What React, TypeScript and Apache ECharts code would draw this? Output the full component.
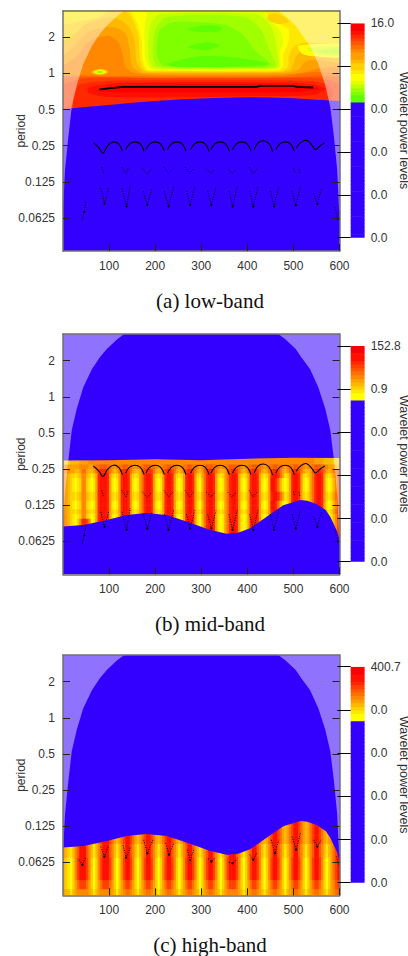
import React, { useEffect, useRef } from "react";
import * as echarts from "echarts";

const xTicks = [100, 200, 300, 400, 500, 600];
const periodTicks = [2, 1, 0.5, 0.25, 0.125, 0.0625];
const periodTop = 3.333;
const periodBottom = 0.03319;

// Colour levels: "." is the blue floor, a..q run green -> yellow -> orange -> red.
const levelKeys = ".abcdefghijklmnopq";
const levelColors = ["#3300FF", "#60FF00", "#80FF00", "#A0FF00", "#C0FF00", "#E0FF00", "#FFFF00", "#FFE800", "#FFD000", "#FFB800", "#FFA000", "#FF8800", "#FF7000", "#FF5800", "#FF4000", "#FF2800", "#FF1000", "#FA0000"];

const cellPeriods = [3.364, 3.084, 2.828, 2.594, 2.378, 2.181, 2, 1.834, 1.682, 1.542, 1.414, 1.297, 1.189, 1.091, 1, 0.917, 0.841, 0.771, 0.707, 0.648, 0.595, 0.545, 0.5, 0.459, 0.42, 0.386, 0.354, 0.324, 0.297, 0.273, 0.25, 0.229, 0.21, 0.193, 0.177, 0.162, 0.149, 0.136, 0.125, 0.115, 0.105, 0.0964, 0.0884, 0.0811, 0.0743, 0.0682, 0.0625, 0.0573, 0.0526, 0.0482, 0.0442, 0.0405, 0.0372, 0.0341, 0.0313];

// Low band: filled contour levels, painted in this order, one level key for each outline.
const lowContourLevels = "mnopqlkjihggfedcbaaafedhhfca";
const lowContourLines = [
  [[-20, 0.45], [620, 0.45], [620, 4], [-20, 4]],
  [[20, 0.86], [60, 0.92], [300, 0.92], [540, 0.92], [590, 0.85], [620, 0.7], [620, 0.45], [-20, 0.45], [-20, 0.72]],
  [[35, 0.8], [70, 0.85], [130, 0.875], [470, 0.875], [540, 0.86], [575, 0.8], [585, 0.72], [575, 0.55], [300, 0.5], [30, 0.45], [22, 0.62]],
  [[55, 0.76], [100, 0.82], [150, 0.84], [480, 0.84], [540, 0.815], [570, 0.745], [540, 0.66], [400, 0.645], [200, 0.63], [90, 0.64], [55, 0.69]],
  [[80, 0.74], [130, 0.8], [480, 0.81], [545, 0.775], [555, 0.74], [500, 0.7], [300, 0.695], [120, 0.695], [80, 0.71]],
  [[-20, 0.987], [50, 0.94], [100, 0.932], [200, 0.922], [400, 0.922], [500, 0.932], [550, 0.958], [620, 1.006], [620, 4], [-20, 4]],
  [[-20, 1.025], [50, 0.968], [100, 0.958], [200, 0.95], [400, 0.95], [480, 0.958], [540, 1.025], [620, 1.065], [620, 4], [-20, 4]],
  [[-20, 1.107], [30, 1.39], [50, 1.76], [70, 1.97], [100, 2.05], [120, 1.82], [130, 1.42], [135, 1.15], [150, 1.025], [200, 0.977], [470, 0.98], [520, 1.02], [550, 1.09], [580, 1.13], [620, 1.13], [620, 4], [-20, 4]],
  [[-20, 1.29], [25, 1.69], [50, 2.17], [80, 2.39], [110, 2.43], [135, 2.17], [145, 1.56], [150, 1.15], [170, 1.015], [200, 1.006], [470, 1.01], [510, 1.07], [525, 1.25], [545, 1.3], [580, 1.25], [620, 1.22], [620, 4], [-20, 4]],
  [[-20, 1.72], [25, 2.13], [50, 2.58], [80, 2.84], [115, 2.89], [140, 2.53], [155, 1.9], [160, 1.24], [175, 1.045], [200, 1.025], [470, 1.03], [495, 1.09], [505, 1.37], [520, 1.56], [540, 1.56], [570, 1.51], [620, 1.34], [620, 4], [-20, 4]],
  [[-20, 4], [-20, 2.58], [50, 2.78], [90, 3.12], [110, 4]],
  [[125, 4], [150, 2.89], [163, 2.09], [168, 1.29], [178, 1.065], [200, 1.045], [470, 1.045], [488, 1.13], [490, 1.39], [500, 1.66], [530, 1.82], [620, 1.76], [620, 4]],
  [[140, 4], [160, 2.68], [170, 1.9], [173, 1.29], [183, 1.076], [200, 1.065], [465, 1.07], [477, 1.15], [478, 1.45], [488, 1.76], [490, 2.3], [470, 2.58], [445, 3], [430, 4]],
  [[195, 4], [178, 2.53], [177, 1.72], [180, 1.29], [190, 1.097], [210, 1.076], [462, 1.086], [472, 1.16], [470, 1.51], [478, 1.82], [470, 2.3], [440, 3.06], [430, 4]],
  [[210, 3.12], [190, 2.58], [185, 1.72], [187, 1.29], [197, 1.12], [215, 1.097], [460, 1.1], [468, 1.17], [466, 1.42], [462, 1.82], [450, 2.53], [420, 3.12]],
  [[225, 2.95], [200, 2.3], [195, 1.56], [198, 1.22], [210, 1.13], [450, 1.12], [462, 1.17], [450, 1.5], [430, 2.3], [395, 2.95]],
  [[240, 2.68], [210, 2.3], [203, 1.56], [208, 1.29], [220, 1.15], [330, 1.14], [440, 1.14], [445, 1.25], [420, 1.5], [390, 2.1], [350, 2.55]],
  [[270, 2.34], [310, 2.53], [345, 2.43], [340, 2.25], [300, 2.21]],
  [[270, 1.66], [310, 1.82], [340, 1.72], [310, 1.56]],
  [[225, 1.2], [300, 1.4], [380, 1.35], [450, 1.2], [380, 1.14], [240, 1.14]],
  [[510, 1.69], [560, 1.76], [620, 1.72], [620, 1.37], [560, 1.37], [520, 1.45]],
  [[530, 1.63], [620, 1.66], [620, 1.42], [550, 1.45]],
  [[550, 1.56], [620, 1.6], [620, 1.48], [560, 1.49]],
  [[445, 3.06], [460, 3.18], [480, 2.95], [490, 2.68], [470, 2.58], [445, 2.78]],
  [[62, 1.03], [70, 1.07], [80, 1.09], [92, 1.07], [98, 1.03], [90, 0.987], [80, 0.977], [70, 0.987]],
  [[67, 1.03], [74, 1.06], [86, 1.06], [93, 1.03], [86, 1.0], [74, 1.0]],
  [[72, 1.03], [80, 1.05], [88, 1.03], [80, 1.01]],
  [[75, 1.03], [80, 1.04], [85, 1.03], [80, 1.02]],
];

const midFlat = "hhhiiiijjjjkkkkkkkkk kkkkkkkkkkkkkkkkkkkk kkkkkkkkkkkkkkkkkkkk kkkkkkkkkkkkkkkkkkkk kkkkkkkkkkkkkkkkkkkk kkkkkkkkkjjjjiiiihhh";
const midFaint = "kkjjj j jkkkkj j kllmmmllk j kllmmllk j kklmmmllk j kllmmllk j kllmmllk j klmmmllk j kklmmmllk j kllmmllk j kllmmllk j kllmmllk j kklmmmllk j jjii";
const midSoft = "lkkjj i ijllji i jlnooonlj i jlnoonlj i ijmnoonlj i jlnoonlj i jlnoonlj i jmnoonlj i ijmnoonlj i jlnoonlj i jlnoonlj i jlnoonlj i ijmnoonlj i jkmn";
const midMedium = "kjihh g hikkih g hjopppojh g hjoppojh g hjloppojh g hjoppojh g hjoppojh g jloppojh g hjloppojh g hjoppojh g hjoppolj g hjoppojh g hjloppojh g hjln";
const midBright = "kjihg f ghkkhg f gjopppojg f gjoppojg f gjloppojg f gjoppojg f gjoppojg f iloppojg f gjloppojg f gjoppojg f gjppolig f gjoppojg f gjloppojg f gikn";
const midLow = "kjihg f hkoonk f gjopppojg f gjoppojg f gjloppojg f gjoppojg f gjoppojg f iloppojg f gjloppojg f gjoppojg f gjppolig f gjoppojg f gjloppojg f gikn";
const midRows = [midFlat, midFlat, midFaint, midSoft, midMedium, midBright, midBright, midBright, midMedium, midMedium, midBright, midBright, midMedium, midBright, midLow, midLow, midLow, midLow, midLow, midLow];

const highUpper = "kkj i jlnpppnlj i jlnpppnlj i jlnppnlj i jlnppnlj i jlnppnlj i jlnppnlj i jlnppnlj i jlnpppnlj i jlnppnlj i jlnppnlj i jlnppnlj i jlnppnlj i jkmnp";
const highMiddle = "jih g ikmpppmki g ikmpppmki g ikmppmki g ikmppmki g ikmppmki g ikmppmki g ikmppmki g ikmpppmki g ikmppmki g ikmppmki g ikmppmki g ikmppmki g ijlnp";
const highBright = "ihg f hknpppnkh f hknpppnkh f hknppnkh f hknppnkh f hknppnkh f hknppnkh f hknppnkh f hknpppnkh f hknppnkh f hknppnkh f hknppnkh f hknppnkh f hjlnp";
const highFading = "ihg f hjlnnnljh f hjlnnnljh f hjlnnljh f hjlnnljh f hjlnnljh f hjlnnljh f hjlnnljh f hjlnnnljh f hjlnnljh f hjlnnljh f hjlnnljh f hjlnnljh f hjkmn";
const highFoot = "jii g ijkkkkkji g ijkkkkkji g ijkllkji g ijkllkji g ijkllkji g ijkllkji g ijkllkji g ijkkkkkji g ijkllkji g ijkllkji g ijkllkji g ijkllkji g ijklm";
const highRows = [highUpper, highUpper, highUpper, highUpper, highUpper, highUpper, highMiddle, highMiddle, highMiddle, highBright, highBright, highBright, highBright, highBright, highFading, highFading, highFoot, highFoot];

// Boundaries between the blue floor and the coloured band: [time, period]
const lowEdge = [[-20, 0.5], [20, 0.514], [60, 0.53], [100, 0.547], [150, 0.57], [200, 0.591], [250, 0.606], [300, 0.619], [350, 0.628], [400, 0.634], [450, 0.63], [500, 0.622], [550, 0.604], [620, 0.584]];
const midTopEdge = [[-20, 0.294], [100, 0.296], [200, 0.302], [300, 0.296], [400, 0.305], [500, 0.311], [620, 0.308]];
const bandEdge = [[-20, 0.083], [0, 0.083], [45, 0.0855], [95, 0.0942], [138, 0.1037], [181, 0.1077], [225, 0.1037], [268, 0.0912], [318, 0.0779], [355, 0.0721], [380, 0.0735], [406, 0.0803], [442, 0.1002], [478, 0.1248], [515, 0.1381], [530, 0.1362], [550, 0.1278], [570, 0.1141], [580, 0.1002], [595, 0.0754], [600, 0.0643], [620, 0.0643]];

// Cone of influence
const coneLeft = [[-20, 4], [136, 4], [133, 3.333], [117, 3], [95, 2.5], [80, 2.13], [63, 1.7], [44, 1.2], [30, 0.8], [19, 0.526], [11.6, 0.296], [4.4, 0.157], [0.7, 0.083], [-20, 0.083]];
const coneRight = [[620, 4], [464, 4], [467, 3.333], [483, 3], [505, 2.5], [517, 2.13], [536, 1.7], [554, 1.2], [569, 0.8], [580, 0.526], [588, 0.296], [595, 0.157], [599, 0.0733], [620, 0.0733]];

// Ridges
const mainRidge = [[[79, 0.736], [131, 0.773], [420, 0.773], [428, 0.788], [500, 0.788], [507, 0.773], [543, 0.764]]];
const scallops = [
  [[66, 0.265], [78, 0.24], [87, 0.217], [97, 0.25], [109, 0.269], [121, 0.258], [129, 0.225]],
  [[136, 0.232], [144, 0.258], [156, 0.269], [168, 0.258], [176, 0.225]],
  [[180, 0.232], [188, 0.258], [200, 0.269], [212, 0.258], [220, 0.225]],
  [[227, 0.232], [235, 0.258], [247, 0.269], [259, 0.258], [267, 0.225]],
  [[277, 0.232], [285, 0.258], [297, 0.269], [309, 0.258], [317, 0.225]],
  [[321, 0.232], [329, 0.258], [341, 0.269], [353, 0.258], [361, 0.225]],
  [[368, 0.232], [376, 0.258], [388, 0.269], [400, 0.258], [408, 0.225]],
  [[415, 0.232], [423, 0.264], [435, 0.275], [447, 0.26], [455, 0.222]],
  [[462, 0.232], [470, 0.258], [482, 0.269], [494, 0.258], [502, 0.225]],
  [[506, 0.24], [517, 0.268], [529, 0.277], [541, 0.25], [548, 0.232], [558, 0.25], [568, 0.265]],
];
const upperVees = [
  [[84, 0.166], [88, 0.147]],
  [[127, 0.166], [137, 0.147], [142, 0.166]],
  [[172, 0.162], [183, 0.145], [192, 0.16]],
  [[219, 0.166], [229, 0.147], [238, 0.16]],
  [[265, 0.166], [275, 0.147], [283, 0.16]],
  [[311, 0.16], [321, 0.147], [330, 0.16]],
  [[358, 0.16], [367, 0.147], [376, 0.16]],
  [[404, 0.166], [412, 0.147], [421, 0.16]],
  [[500, 0.162], [503, 0.15]],
  [[512, 0.16], [514, 0.15]],
];
const lowerVees = [
  [[42, 0.0598], [46, 0.07], [50, 0.087]],
  [[82, 0.11], [90, 0.0825], [100, 0.113]],
  [[128, 0.11], [138, 0.078], [146, 0.118]],
  [[174, 0.105], [183, 0.08], [193, 0.11]],
  [[220, 0.105], [229, 0.078], [240, 0.113]],
  [[268, 0.105], [276, 0.08], [286, 0.113]],
  [[314, 0.105], [322, 0.08], [332, 0.113]],
  [[360, 0.105], [368, 0.078], [378, 0.113]],
  [[405, 0.105], [413, 0.078], [423, 0.113]],
  [[450, 0.105], [458, 0.078], [468, 0.113]],
  [[497, 0.105], [505, 0.08], [515, 0.113]],
  [[544, 0.1], [552, 0.082], [561, 0.11]],
  [[590, 0.0775], [597, 0.0605]],
];
const highVees = [
  [[35, 0.0656], [42, 0.0596], [50, 0.0698]],
  [[82, 0.0844], [90, 0.0698], [98, 0.0844]],
  [[130, 0.0868], [137, 0.0685], [147, 0.0844]],
  [[175, 0.0961], [183, 0.0743], [195, 0.0961]],
  [[223, 0.0902], [230, 0.0724], [240, 0.0902]],
  [[270, 0.0794], [276, 0.0655], [284, 0.0794]],
  [[315, 0.067], [322, 0.0634], [330, 0.0685]],
  [[360, 0.0625], [368, 0.0613], [376, 0.0655]],
  [[405, 0.0724], [413, 0.0655], [420, 0.0743]],
  [[452, 0.0961], [460, 0.0743], [468, 0.0961]],
  [[497, 0.1024], [506, 0.0794], [515, 0.1088]],
  [[544, 0.0961], [552, 0.0844], [560, 0.0961]],
  [[593, 0.07], [598, 0.06]],
];

// Legends: one character per cell, from the bottom up.
const lowLegend = "...................................... aabcdeffghhijjklmnopqq";
const midLegend = "............................................. ffghijklmnoppqq";
const highLegend = "............................................. ffghijklmnoppqq";
const lowLegendLabels = ["0.0", "0.0", "0.0", "0.0", "0.0", "16.0"];
const midLegendLabels = ["0.0", "0.0", "0.0", "0.0", "0.9", "152.8"];
const highLegendLabels = ["0.0", "0.0", "0.0", "0.0", "0.0", "400.7"];

const sans = "Liberation Sans, Arial, sans-serif";
const textColor = "#333333";
const frameColor = "#707070";

function heatCells(rows: string[], firstRow: number) {
  const cells: number[][] = [];
  rows.forEach((row, r) => {
    const codes = row.replace(/ /g, "").split("");
    const step = 600 / codes.length;
    codes.forEach((ch, c) => {
      cells.push([c * step, cellPeriods[firstRow + r], c * step + step, cellPeriods[firstRow + r + 1], levelKeys.indexOf(ch)]);
    });
  });
  return cells;
}

function legendCells(code: string) {
  return code.replace(/ /g, "").split("").map((ch, i) => [0, i, 1, i + 1, levelKeys.indexOf(ch)]);
}

function cellRender(params: any, api: any) {
  const a = api.coord([api.value(0), api.value(1)]);
  const b = api.coord([api.value(2), api.value(3)]);
  const top = Math.min(a[1], b[1]);
  return {
    type: "rect",
    shape: { x: a[0], y: top, width: b[0] - a[0] + 0.6, height: Math.abs(b[1] - a[1]) + 0.6 },
    style: { fill: levelColors[api.value(4)] },
  };
}

function polygonSeries(index: number, points: number[][], fill: string, smooth = 0) {
  return {
    type: "custom", coordinateSystem: "cartesian2d", xAxisIndex: index, yAxisIndex: index,
    clip: true, silent: true, data: points,
    renderItem: (params: any, api: any) =>
      params.dataIndex > 0 ? null : { type: "polygon", shape: { points: points.map((p) => api.coord(p)), smooth }, style: { fill } },
  };
}

function ridgeSeries(index: number, segments: number[][][], width: number, dash: any, smooth = 0, dots = false) {
  return {
    type: "custom", coordinateSystem: "cartesian2d", xAxisIndex: index, yAxisIndex: index,
    clip: true, silent: true, data: segments.map((s) => s[0]),
    renderItem: (params: any, api: any) => {
      const seg = segments[params.dataIndex];
      const children: any[] = [{
        type: "polyline",
        shape: { points: seg.map((p) => api.coord(p)), smooth },
        style: { fill: null, stroke: "#000000", lineWidth: width, lineDash: dash },
      }];
      if (dots && seg.length === 3) {
        const c = api.coord(seg[1]);
        children.push({ type: "circle", shape: { cx: c[0], cy: c[1], r: 1.1 }, style: { fill: "#000000" } });
      }
      return { type: "group", children };
    },
  };
}

export default function App() {
  const ref = useRef<HTMLDivElement>(null);
  useEffect(() => {
    document.body.style.margin = "0";
    const chart = echarts.init(ref.current!, undefined, { renderer: "svg" });

    const panels = [
      { top: 10.7, legendTop: 23.3, legendHeight: 214.4, legend: lowLegend, labels: lowLegendLabels, caption: "(a) low-band", captionTop: 290.5 },
      { top: 334, legendTop: 346, legendHeight: 215.7, legend: midLegend, labels: midLegendLabels, caption: "(b) mid-band", captionTop: 613.5 },
      { top: 655, legendTop: 666.7, legendHeight: 216, legend: highLegend, labels: highLegendLabels, caption: "(c) high-band", captionTop: 934.5 },
    ];

    const grid: any[] = [];
    const xAxis: any[] = [];
    const yAxis: any[] = [];
    const series: any[] = [];
    const title: any[] = [];

    panels.forEach((p, i) => {
      grid.push({ left: 63, width: 276.5, top: p.top, height: 240.3, outerBoundsMode: "none" });
      xAxis.push({
        gridIndex: i, type: "value", min: 0, max: 600, interval: 100, z: 10,
        axisLine: { show: true, onZero: false, lineStyle: { color: frameColor, width: 1.5 } },
        axisTick: { show: true, inside: true, length: 7, customValues: xTicks, lineStyle: { color: "#222222" } },
        axisLabel: { customValues: xTicks, color: textColor, fontFamily: sans, fontSize: 12, margin: 9, hideOverlap: false },
        splitLine: { show: false },
      });
      yAxis.push({
        gridIndex: i, type: "log", logBase: 2, min: periodBottom, max: periodTop, z: 10,
        name: "period", nameLocation: "middle", nameGap: 36, nameRotate: 90, nameMoveOverlap: false,
        nameTextStyle: { color: textColor, fontFamily: sans, fontSize: 12 },
        axisLine: { show: true, onZero: false, lineStyle: { color: frameColor, width: 1.5 } },
        axisTick: { show: true, inside: true, length: 7, customValues: periodTicks, lineStyle: { color: "#222222" } },
        axisLabel: { customValues: periodTicks, color: textColor, fontFamily: sans, fontSize: 12, margin: 8, formatter: (v: number) => String(v) },
        splitLine: { show: false },
      });
      title.push({
        text: p.caption, left: 210, top: p.captionTop, textAlign: "center", padding: 0,
        textStyle: { fontFamily: "Liberation Serif, serif", fontWeight: "normal", fontSize: 21, color: "#111111" },
      });
    });

    panels.forEach((p, i) => {
      // opposite frame sides
      grid.push({ left: 63, width: 276.5, top: p.top, height: 240.3, outerBoundsMode: "none" });
      const g = grid.length - 1;
      xAxis.push({
        gridIndex: g, type: "value", position: "top", min: 0, max: 600, interval: 100, z: 10,
        axisLine: { show: true, onZero: false, lineStyle: { color: frameColor, width: 1.5 } },
        axisTick: { show: false }, axisLabel: { show: false }, splitLine: { show: false },
      });
      yAxis.push({
        gridIndex: g, type: "log", logBase: 2, position: "right", min: periodBottom, max: periodTop, z: 10,
        axisLine: { show: true, onZero: false, lineStyle: { color: frameColor, width: 1.5 } },
        axisTick: { show: true, inside: true, length: 7, customValues: periodTicks, lineStyle: { color: "#222222" } },
        axisLabel: { show: false }, splitLine: { show: false },
      });
    });

    panels.forEach((p, i) => {
      grid.push({ left: 350.7, width: 13.3, top: p.legendTop, height: p.legendHeight, outerBoundsMode: "none" });
      const g = grid.length - 1;
      xAxis.push({ gridIndex: g, type: "value", min: 0, max: 1, show: false });
      yAxis.push({
        gridIndex: g, type: "value", position: "right", min: 0, max: 60, interval: 12, z: 10,
        name: "Wavelet power levels", nameLocation: "middle", nameGap: 33, nameRotate: -90, nameMoveOverlap: false,
        nameTextStyle: { color: textColor, fontFamily: sans, fontSize: 12.5 },
        axisLine: { show: false },
        axisTick: { show: true, inside: true, length: 13.3, lineStyle: { color: "#000000", width: 1 } },
        axisLabel: { color: textColor, fontFamily: sans, fontSize: 12, margin: 6.7, formatter: (v: number) => p.labels[v / 12] },
        splitLine: { show: false },
      });
      series.push({
        type: "custom", coordinateSystem: "cartesian2d", xAxisIndex: g, yAxisIndex: g, clip: true, silent: true,
        data: legendCells(p.legend), renderItem: cellRender,
      });
    });

    const cell = (index: number, rows: string[], first: number) => ({
      type: "custom", coordinateSystem: "cartesian2d", xAxisIndex: index, yAxisIndex: index, clip: true, silent: true,
      data: heatCells(rows, first), renderItem: cellRender,
    });
    const blue = levelColors[0];
    const wash = "rgba(255,255,255,0.45)";
    const below = (edge: number[][]) => [...edge, [620, 0.02], [-20, 0.02]];
    const above = (edge: number[][]) => [...edge, [620, 4], [-20, 4]];

    series.push(
      ...lowContourLines.map((line, i) => polygonSeries(0, line, levelColors[levelKeys.indexOf(lowContourLevels[i])], 0.25)),
      polygonSeries(0, below(lowEdge), blue),
      polygonSeries(0, coneLeft, wash),
      polygonSeries(0, coneRight, wash),
      ridgeSeries(0, mainRidge, 1.8, null),
      ridgeSeries(0, scallops, 1.1, null, 0.4),
      ridgeSeries(0, upperVees, 1, [1, 1.5]),
      ridgeSeries(0, lowerVees, 1, [1, 1.5], 0, true),

      cell(1, midRows, 27),
      polygonSeries(1, above(midTopEdge), blue),
      polygonSeries(1, below(bandEdge), blue),
      polygonSeries(1, coneLeft, wash),
      polygonSeries(1, coneRight, wash),
      ridgeSeries(1, scallops, 1.1, null, 0.4),
      ridgeSeries(1, upperVees, 1, [1, 1.5]),
      ridgeSeries(1, lowerVees, 1, [1, 1.5], 0, true),

      cell(2, highRows, 36),
      polygonSeries(2, above(bandEdge), blue),
      polygonSeries(2, coneLeft, wash),
      polygonSeries(2, coneRight, wash),
      ridgeSeries(2, highVees, 1, [1, 1.5], 0, true),
    );

    chart.setOption({ animation: false, backgroundColor: "#ffffff", title, grid, xAxis, yAxis, series });
    return () => chart.dispose();
  }, []);
  return <div ref={ref} style={{ position: "absolute", left: 0, top: 0, width: 408, height: 956 }} />;
}
